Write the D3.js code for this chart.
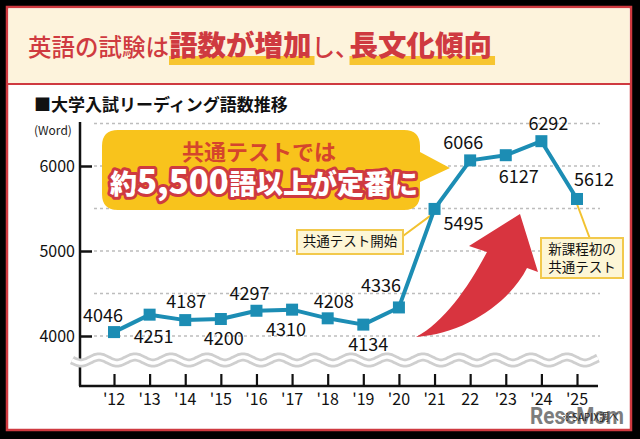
<!DOCTYPE html>
<html><head><meta charset="utf-8">
<script src="https://cdn.jsdelivr.net/npm/d3@7"></script>
<style>html,body{margin:0;padding:0;background:#000;}svg{display:block;}</style>
</head><body>
<svg id="c" width="640" height="439"></svg>
<script>
// ---- data ----
const years = ["'12","'13","'14","'15","'16","'17","'18","'19","'20","'21","22","'23","'24","'25"];
const words = [4046,4251,4187,4200,4297,4310,4208,4134,4336,5495,6066,6127,6292,5612];
const yTicks = [4000,5000,6000];
const gridValues = [4000,4500,5000,5500,6000,6500];
const titleParts = [
  {t:"英語の試験は", b:false},{t:"語数が増加", b:true},{t:"し、", b:false},{t:"長文化傾向", b:true}];
const subtitle = "■大学入試リーディング語数推移";
const unitLabel = "(Word)";
const calloutLine1 = "共通テストでは";
const calloutLine2 = [{t:"約",big:false},{t:"5,500",big:true},{t:"語以上が定番に",big:false}];
const note1 = ["共通テスト開始"];
const note2 = ["新課程初の","共通テスト"];

// ---- layout helpers ----
const JP = "'Noto Sans CJK JP','Noto Sans',sans-serif";
const RED = "#cf3a40", BLUE = "#1c8db4", GOLD = "#f8c31c";
const svg = d3.select("#c");

// frame
svg.append("rect").attr("x",0).attr("y",0).attr("width",640).attr("height",439).attr("fill","#000");
svg.append("rect").attr("x",7).attr("y",7).attr("width",624).attr("height",423).attr("fill","#fff").attr("stroke",RED).attr("stroke-width",2.5);
svg.append("rect").attr("x",8.5).attr("y",8.5).attr("width",621).attr("height",75).attr("fill","#fdf3dc");
svg.append("line").attr("x1",7).attr("x2",631).attr("y1",84).attr("y2",84).attr("stroke",RED).attr("stroke-width",2);

// title
const title = svg.append("text").attr("x",28).attr("y",56).attr("font-family",JP).attr("fill",RED);
titleParts.forEach((p,i)=>{
  const ts = title.append("tspan").attr("font-weight",p.b?900:500).attr("font-size",p.b?28.5:23.5).text(p.t);
  if(i===3) ts.attr("dx",-9);
});
// highlights under bold parts
title.selectAll("tspan").nodes().forEach(n=>{
  if(n.getAttribute("font-weight")!=="900") return;
  const bb = n.getBBox();
  svg.insert("rect","text").attr("x",bb.x).attr("y",56).attr("width",bb.width+3).attr("height",9).attr("fill","#f7c531");
});

svg.append("text").attr("x",34).attr("y",111).attr("font-family",JP).attr("font-size",17).attr("font-weight",700).attr("fill","#111").text(subtitle);
svg.append("text").attr("x",34).attr("y",135).attr("font-family",JP).attr("font-size",12).attr("fill","#222").text(unitLabel);

// scales
const x = d3.scalePoint().domain(years).range([114,577]);
const y = d3.scaleLinear().domain([4000,6000]).range([336,166]);

// grid
svg.append("g").selectAll("line").data(gridValues).join("line")
  .attr("x1",94).attr("x2",600).attr("y1",d=>y(d)).attr("y2",d=>y(d))
  .attr("stroke","#bdbdbd").attr("stroke-width",1.3).attr("stroke-dasharray","3,3");

// y axis
svg.append("line").attr("x1",80).attr("x2",80).attr("y1",122).attr("y2",386).attr("stroke","#111").attr("stroke-width",2.5);
const yAxis = svg.append("g").attr("transform","translate(80,0)")
  .call(d3.axisRight(y).tickValues(yTicks).tickSize(12).tickFormat(""));
yAxis.select(".domain").remove();
yAxis.selectAll(".tick line").attr("stroke","#111").attr("stroke-width",2.5);
svg.append("g").selectAll("text").data(yTicks).join("text")
  .attr("x",75).attr("y",d=>y(d)).attr("dy","0.36em").attr("text-anchor","end")
  .attr("font-family",JP).attr("font-size",16).attr("fill","#111").text(d=>d);

// x axis
const xAxis = svg.append("g").attr("transform","translate(0,386)")
  .call(d3.axisTop(x).tickSize(12).tickFormat(""));
xAxis.select(".domain").remove();
xAxis.selectAll(".tick line").attr("stroke","#111").attr("stroke-width",2.2);
svg.append("line").attr("x1",79).attr("x2",598).attr("y1",386).attr("y2",386).attr("stroke","#111").attr("stroke-width",2.5);
svg.append("g").selectAll("text").data(years).join("text")
  .attr("x",d=>x(d)).attr("y",405).attr("text-anchor","middle")
  .attr("font-family",JP).attr("font-size",16).attr("fill","#111").text(d=>d);

// break wave
const wavePts = d3.range(72,599,2).map(px=>[px, 360 + 3*Math.sin((px-72)/36*2*Math.PI)]);
const wl = d3.line().curve(d3.curveBasis);
svg.append("path").attr("d",wl(wavePts)).attr("fill","none").attr("stroke","#cfcfcf").attr("stroke-width",9);
svg.append("path").attr("d",wl(wavePts)).attr("fill","none").attr("stroke","#fff").attr("stroke-width",3.5);

// red arrow
svg.append("path").attr("d","M416,337 C465,334 510,302 527,268 L538,272 L520,214 L469,246 L487,252 C468,288 444,322 416,337 Z")
  .attr("fill","#d8343f");

// callout bubble
svg.append("path").attr("d","M118,130 H404 Q420,130 420,146 V152 L450,168 L420,182 V194 Q420,210 404,210 H118 Q102,210 102,194 V146 Q102,130 118,130 Z")
  .attr("fill",GOLD);
svg.append("text").attr("x",259).attr("y",160).attr("text-anchor","middle").attr("font-family",JP)
  .attr("font-size",22).attr("font-weight",700).attr("fill","#d5452c").text(calloutLine1);
const l2 = svg.append("text").attr("x",264).attr("y",194).attr("text-anchor","middle").attr("font-family",JP)
  .attr("font-weight",900).attr("fill","#fff").attr("stroke",RED).attr("stroke-width",6)
  .attr("stroke-linejoin","round").attr("paint-order","stroke");
calloutLine2.forEach(p=>l2.append("tspan").attr("font-size",p.big?33:27).text(p.t));

// leader lines
const LEAD = "#f2c230";
svg.append("line").attr("x1",403).attr("y1",236).attr("x2",x(years[9])-3).attr("y2",y(words[9])+6).attr("stroke",LEAD).attr("stroke-width",2);
svg.append("line").attr("x1",x(years[13])).attr("y1",y(words[13])+5).attr("x2",590).attr("y2",239).attr("stroke",LEAD).attr("stroke-width",2);

// note boxes
function noteBox(x0,y0,w,h,lines){
  svg.append("rect").attr("x",x0).attr("y",y0).attr("width",w).attr("height",h).attr("fill","#fdf6d6").attr("stroke","#f2c94c").attr("stroke-width",2);
  lines.forEach((t,i)=>svg.append("text").attr("x",x0+w/2).attr("y",y0+16+i*18).attr("text-anchor","middle")
    .attr("font-family",JP).attr("font-size",13.5).attr("fill","#111").text(t));
}
noteBox(297,230,106,24,note1);
noteBox(541,238,82,40,note2);

// line + markers
const data = years.map((yr,i)=>({yr, v:words[i]}));
svg.append("path").datum(data).attr("d",d3.line().x(d=>x(d.yr)).y(d=>y(d.v)))
  .attr("fill","none").attr("stroke",BLUE).attr("stroke-width",4).attr("stroke-linejoin","round");
svg.append("g").selectAll("rect").data(data).join("rect")
  .attr("x",d=>x(d.yr)-6).attr("y",d=>y(d.v)-6).attr("width",12).attr("height",12).attr("fill",BLUE);

// value labels (placement offsets relative to each marker)
const labelOffsets = [[-11,-17],[4,22],[1,-19],[3,20],[-7,-17],[-6,20],[6,-17],[5,20],[-18,-22],[29,15],[-7,-18],[13,21],[7,-18],[17,-19]];
svg.append("g").selectAll("text").data(data).join("text")
  .attr("x",(d,i)=>x(d.yr)+labelOffsets[i][0]).attr("y",(d,i)=>y(d.v)+labelOffsets[i][1])
  .attr("dy","0.36em").attr("text-anchor","middle").attr("font-family",JP).attr("font-size",18).attr("fill","#111")
  .text(d=>d.v);

// footer watermark
svg.append("text").attr("x",530).attr("y",424).attr("font-family","Roboto,sans-serif").attr("font-weight",700)
  .attr("font-size",24).attr("fill","#7d7d7d").attr("textLength",94).attr("lengthAdjust","spacingAndGlyphs").text("ReseMom");
svg.append("text").attr("x",562).attr("y",421).attr("font-family",JP).attr("font-size",10).attr("fill","#222").text("※SAPIX調べ");
</script>
</body></html>
